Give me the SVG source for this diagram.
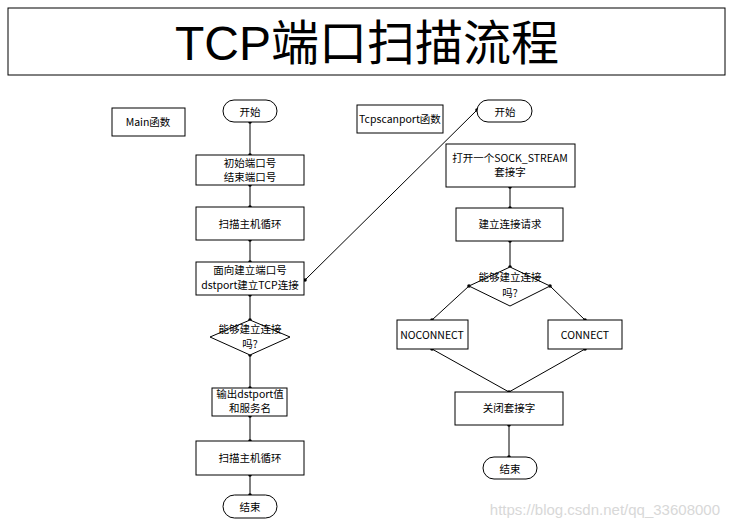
<svg xmlns="http://www.w3.org/2000/svg" width="729" height="527" viewBox="0 0 729 527">
<style>
.b{fill:#fff;stroke:#000;stroke-width:1}
.t{font-family:"SimSun","Noto Sans CJK SC",sans-serif;font-size:10.5px;fill:#000;text-anchor:middle}
.l{stroke:#000;stroke-width:1;fill:none}
.d{fill:#000}
</style>
<rect width="729" height="527" fill="#fff"/>
<g id="title"><rect class="b" x="8" y="8" width="717" height="67"/>
<text x="367" y="60" font-family="'Liberation Sans','Noto Sans CJK SC',sans-serif" font-size="48" text-anchor="middle">TCP端口扫描流程</text></g>
<g id="connectors">
<path class="l" d="M250,122V155M250,185V207M250,240V262M250,295V320M250,355V388M250,416V441M250,475V495M305,280L477,110"/>
<path class="l" d="M510,187V208M510,241V267M469,286L432,320M550,286L585,320M432,349L509,392M585,349L509,392M509,425V457"/>
<g class="d">
<circle cx="250" cy="122" r="1.8"/><circle cx="250" cy="155" r="1.8"/><circle cx="250" cy="185" r="1.8"/><circle cx="250" cy="207" r="1.8"/><circle cx="250" cy="240" r="1.8"/><circle cx="250" cy="262" r="1.8"/><circle cx="250" cy="295" r="1.8"/><circle cx="250" cy="320" r="1.8"/><circle cx="250" cy="355" r="1.8"/><circle cx="250" cy="388" r="1.8"/><circle cx="250" cy="416" r="1.8"/><circle cx="250" cy="441" r="1.8"/><circle cx="250" cy="475" r="1.8"/><circle cx="250" cy="495" r="1.8"/><circle cx="305" cy="280" r="1.8"/><circle cx="477" cy="110" r="1.8"/>
<circle cx="510" cy="187" r="1.8"/><circle cx="510" cy="208" r="1.8"/><circle cx="510" cy="241" r="1.8"/><circle cx="510" cy="267" r="1.8"/><circle cx="469" cy="286" r="1.8"/><circle cx="550" cy="286" r="1.8"/><circle cx="432" cy="320" r="1.8"/><circle cx="585" cy="320" r="1.8"/><circle cx="432" cy="349" r="1.8"/><circle cx="585" cy="349" r="1.8"/><circle cx="509" cy="392" r="1.8"/><circle cx="509" cy="425" r="1.8"/><circle cx="509" cy="457" r="1.8"/>
</g></g>
<g id="mainLabel"><rect class="b" x="112" y="108" width="73" height="28"/><text class="t" x="148" y="126">Main函数</text></g>
<g id="start1"><rect class="b" x="223" y="100" width="54" height="22" rx="11"/><text class="t" x="250" y="116" font-size="13">开始</text></g>
<g id="init"><rect class="b" x="196" y="155" width="108" height="30"/><text class="t" x="250" y="167">初始端口号</text><text class="t" x="250" y="181">结束端口号</text></g>
<g id="loop1"><rect class="b" x="196" y="207" width="108" height="33"/><text class="t" x="250" y="228">扫描主机循环</text></g>
<g id="connect"><rect class="b" x="196" y="262" width="108" height="33"/><text class="t" x="250" y="274">面向建立端口号</text><text class="t" x="250" y="289">dstport建立TCP连接</text></g>
<g id="dec1"><polygon class="b" points="250,320 290,337 250,355 210,337"/><text class="t" x="250" y="333">能够建立连接</text><text class="t" x="250" y="348">吗?</text></g>
<g id="output"><rect class="b" x="212" y="388" width="75" height="28"/><text class="t" x="250" y="398" font-size="10">输出dstport值</text><text class="t" x="250" y="412">和服务名</text></g>
<g id="loop2"><rect class="b" x="196" y="441" width="108" height="34"/><text class="t" x="250" y="462">扫描主机循环</text></g>
<g id="end1"><rect class="b" x="223" y="495" width="54" height="23" rx="11.5"/><text class="t" x="250" y="511" font-size="13">结束</text></g>
<g id="tcpLabel"><rect class="b" x="357" y="105" width="86" height="28"/><text class="t" x="400" y="123">Tcpscanport函数</text></g>
<g id="start2"><rect class="b" x="477" y="100" width="55" height="22" rx="11"/><text class="t" x="505" y="116" font-size="13">开始</text></g>
<g id="sock"><rect class="b" x="446" y="144" width="129" height="43"/><text class="t" x="510" y="162">打开一个SOCK_STREAM</text><text class="t" x="510" y="176">套接字</text></g>
<g id="req"><rect class="b" x="456" y="208" width="107" height="33"/><text class="t" x="510" y="228">建立连接请求</text></g>
<g id="dec2"><polygon class="b" points="510,267 550,286 510,306 469,286"/><text class="t" x="510" y="281">能够建立连接</text><text class="t" x="510" y="297">吗?</text></g>
<g id="noconn"><rect class="b" x="397" y="320" width="71" height="29"/><text class="t" x="432" y="339">NOCONNECT</text></g>
<g id="conn"><rect class="b" x="548" y="320" width="74" height="29"/><text class="t" x="585" y="339">CONNECT</text></g>
<g id="close"><rect class="b" x="455" y="392" width="108" height="33"/><text class="t" x="509" y="412">关闭套接字</text></g>
<g id="end2"><rect class="b" x="483" y="457" width="54" height="22" rx="11"/><text class="t" x="510" y="473" font-size="13">结束</text></g>
<text x="720" y="515" font-family="'Liberation Sans',sans-serif" font-size="15" fill="#d8d8d8" text-anchor="end">https://blog.csdn.net/qq_33608000</text>
</svg>
